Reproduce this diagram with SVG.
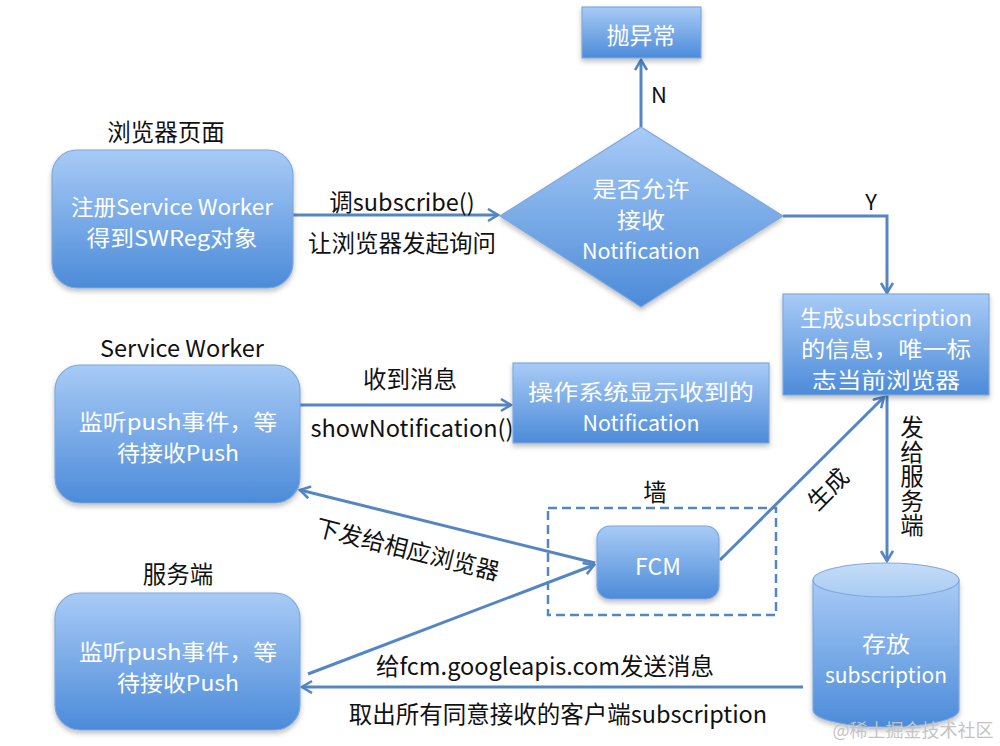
<svg xmlns="http://www.w3.org/2000/svg" width="1000" height="746" viewBox="0 0 1000 746">
<style>
  text{font-family:"Noto Sans CJK SC","Liberation Sans",sans-serif;dominant-baseline:central;text-anchor:middle}
  .in{fill:#ffffff;font-size:23px}
  .ml{fill:#ffffff;font-size:21.2px}
  .lb{fill:#111111;font-size:23.5px}
  .nd{fill:url(#g);stroke:#7fa8dc;stroke-width:1.2;filter:url(#sh)}
  .cn{fill:none;stroke:#5586c4;stroke-width:3}
  .ar{marker-end:url(#ah)}
</style>
<defs>
  <linearGradient id="g" x1="0" y1="0" x2="0" y2="1">
    <stop offset="0" stop-color="#a8cbf6"/>
    <stop offset="1" stop-color="#4c8bd9"/>
  </linearGradient>
  <linearGradient id="gt" x1="0" y1="0" x2="0" y2="1">
    <stop offset="0" stop-color="#c4dcf8"/>
    <stop offset="1" stop-color="#a9cbf3"/>
  </linearGradient>
  <filter id="sh" x="-10%" y="-10%" width="120%" height="130%">
    <feDropShadow dx="0" dy="3" stdDeviation="2.5" flood-color="#000" flood-opacity="0.25"/>
  </filter>
  <marker id="ah" markerUnits="userSpaceOnUse" markerWidth="16" markerHeight="16" refX="12" refY="7" orient="auto">
    <path d="M2,1 L12,7 L2,13" fill="none" stroke="#5586c4" stroke-width="2.6"/>
  </marker>
</defs>
<rect width="1000" height="746" fill="#ffffff"/>

<g id="connectors">
  <path class="cn ar" d="M293,215 L498,215"/>
  <path class="cn ar" d="M641,127 L641,60"/>
  <path class="cn ar" d="M783,216 L887,216 L887,293"/>
  <path class="cn ar" d="M887,395 L887,561"/>
  <path class="cn ar" d="M720,560 L884,397"/>
  <path class="cn ar" d="M595,563 L300,490"/>
  <path class="cn ar" d="M308,674 L594,565"/>
  <path class="cn ar" d="M803,687 L302,687"/>
  <path class="cn ar" d="M300,405 L511,405"/>
</g>

<g id="wall">
  <rect x="548" y="508" width="228" height="107" fill="none" stroke="#5586c4" stroke-width="2.5" stroke-dasharray="9,5"/>
  <text class="lb" x="655" y="491">墙</text>
</g>

<g id="browser-page">
  <text class="lb" x="166" y="131">浏览器页面</text>
  <rect class="nd" x="52" y="150" width="241" height="138" rx="25"/>
  <text class="ml"><tspan x="172" y="205" textLength="202" lengthAdjust="spacingAndGlyphs">注册Service Worker</tspan><tspan x="172" y="236" textLength="171" lengthAdjust="spacingAndGlyphs">得到SWReg对象</tspan></text>
</g>

<g id="decision">
  <polygon class="nd" points="641,127 783,216 641,307 500,216"/>
  <text class="ml"><tspan x="641" y="187" textLength="97" lengthAdjust="spacingAndGlyphs">是否允许</tspan><tspan x="641" y="218" textLength="48" lengthAdjust="spacingAndGlyphs">接收</tspan><tspan x="641" y="249" textLength="118" lengthAdjust="spacingAndGlyphs">Notification</tspan></text>
</g>

<g id="exception">
  <rect class="nd" x="582" y="7" width="119" height="51"/>
  <text class="in" x="641" y="34">抛异常</text>
</g>

<g id="gen-subscription">
  <rect class="nd" x="783" y="294" width="206" height="101"/>
  <text class="ml"><tspan x="886" y="316" textLength="172" lengthAdjust="spacingAndGlyphs">生成subscription</tspan><tspan x="886" y="347" textLength="170" lengthAdjust="spacingAndGlyphs">的信息，唯一标</tspan><tspan x="886" y="378" textLength="148" lengthAdjust="spacingAndGlyphs">志当前浏览器</tspan></text>
</g>

<g id="service-worker">
  <text class="lb" x="182" y="347">Service Worker</text>
  <rect class="nd" x="55" y="365" width="245" height="138" rx="25"/>
  <text class="ml"><tspan x="178" y="420" textLength="198" lengthAdjust="spacingAndGlyphs">监听push事件，等</tspan><tspan x="178" y="451" textLength="122" lengthAdjust="spacingAndGlyphs">待接收Push</tspan></text>
</g>

<g id="os-notification">
  <rect class="nd" x="513" y="363" width="256" height="80"/>
  <text class="ml"><tspan x="641" y="390" textLength="226" lengthAdjust="spacingAndGlyphs">操作系统显示收到的</tspan><tspan x="641" y="421" textLength="117" lengthAdjust="spacingAndGlyphs">Notification</tspan></text>
</g>

<g id="fcm">
  <rect class="nd" x="597" y="526" width="122" height="73" rx="13"/>
  <text class="in" x="658" y="565">FCM</text>
</g>

<g id="server">
  <text class="lb" x="178" y="573">服务端</text>
  <rect class="nd" x="55" y="593" width="245" height="137" rx="25"/>
  <text class="ml"><tspan x="178" y="650" textLength="198" lengthAdjust="spacingAndGlyphs">监听push事件，等</tspan><tspan x="178" y="681" textLength="122" lengthAdjust="spacingAndGlyphs">待接收Push</tspan></text>
</g>

<g id="storage">
  <path class="nd" d="M813,580 L813,710 A73,17 0 0 0 959,710 L959,580 Z"/>
  <ellipse cx="886" cy="580" rx="73" ry="17" fill="url(#gt)" stroke="#7fa8dc" stroke-width="1.2"/>
  <text class="ml"><tspan x="886" y="642" textLength="48" lengthAdjust="spacingAndGlyphs">存放</tspan><tspan x="886" y="673" textLength="122" lengthAdjust="spacingAndGlyphs">subscription</tspan></text>
</g>

<g id="labels">
  <text class="lb" x="402" y="201">调subscribe()</text>
  <text class="lb" x="402" y="242">让浏览器发起询问</text>
  <text class="lb" x="659" y="93" style="font-size:22px">N</text>
  <text class="lb" x="871" y="200" style="font-size:22px">Y</text>
  <text class="lb" x="410" y="378">收到消息</text>
  <text class="lb" x="412" y="427">showNotification()</text>
  <text class="lb" transform="translate(827,488) rotate(-45)">生成</text>
  <text class="lb" transform="translate(408,548) rotate(14)">下发给相应浏览器</text>
  <text class="lb" x="912" y="477" writing-mode="vertical-rl" style="letter-spacing:1px">发给服务端</text>
  <text class="lb" x="545" y="665">给fcm.googleapis.com发送消息</text>
  <text class="lb" x="558" y="713">取出所有同意接收的客户端subscription</text>
</g>

<text x="913" y="729" style="fill:#c4c4c4;font-size:18px">@稀土掘金技术社区</text>
</svg>
